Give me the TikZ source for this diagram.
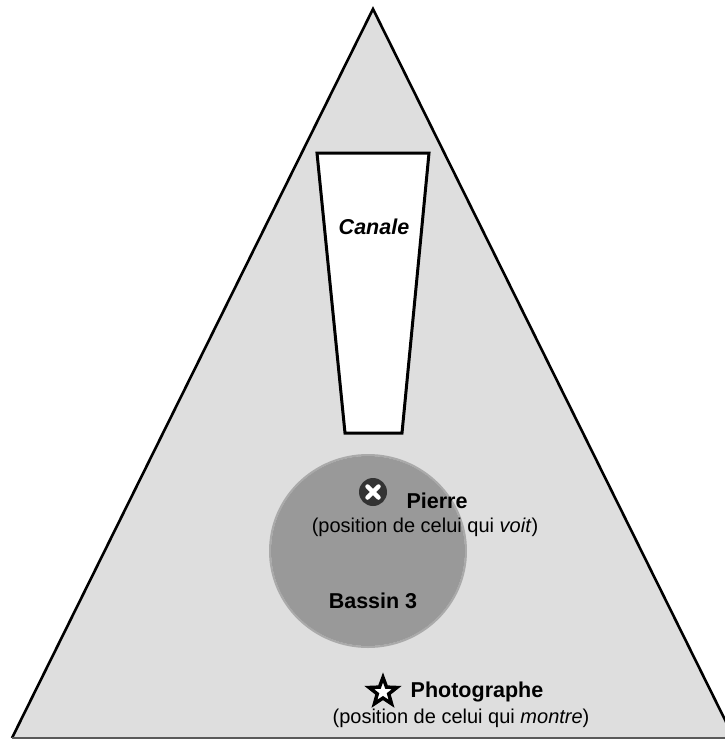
\documentclass[tikz,border=0pt]{standalone}
\usepackage{fontspec}
\setmainfont{Liberation Sans}
\usetikzlibrary{shapes.geometric}
\definecolor{plateau}{HTML}{DEDEDE}
\definecolor{bassin}{HTML}{999999}

\begin{document}
\begin{tikzpicture}[x=1pt,y=-1pt,
  lbl/.style={font=\fontsize{20}{24}\selectfont,anchor=base,inner sep=0pt},
  titre/.style={font=\fontsize{21.5}{26}\selectfont\bfseries,anchor=base,inner sep=0pt}]
  \useasboundingbox (0,0) rectangle (725,740);
  \clip (0,0) rectangle (725,740);
  \fill[white] (0,0) rectangle (725,740);
  % le plateau
  \fill[plateau] (12,738) -- (373,9) -- (734,738) -- cycle;
  \draw[line width=2.6pt,line join=miter] (12,738) -- (373,9) -- (734,738);
  \draw[black!65,line width=1.5pt] (12,738) -- (725,738);
  % le canal
  \draw[fill=white,line width=3pt] (317,153) -- (429,153) -- (402,433) -- (345,433) -- cycle;
  \node[titre,font=\fontsize{21.5}{26}\selectfont\bfseries\itshape] (canale) at (374,234) {Canale};
  % le bassin
  \draw[bassin!75!plateau,line width=2pt] (368,551) ellipse [x radius=98, y radius=96];
  \fill[bassin] (368,551) ellipse [x radius=97, y radius=95];
  \node[titre] (bassin-nom) at (373,608) {Bassin 3};
  % Pierre
  \node[circle,fill=black!80,minimum size=28pt,inner sep=0pt] (pierre) at (373,492) {};
  \draw[white,line width=4.5pt,line cap=round] ([shift={(-5.5,-5.5)}]pierre.center) -- ([shift={(5.5,5.5)}]pierre.center);
  \draw[white,line width=4.5pt,line cap=round] ([shift={(-5.5,5.5)}]pierre.center) -- ([shift={(5.5,-5.5)}]pierre.center);
  \node[titre] (pierre-nom) at (437,508) {Pierre};
  \node[lbl] (pierre-role) at (425,532) {(position de celui qui \textit{voit})};
  % le photographe
  \node[star,star points=5,star point ratio=2.4,draw,fill=white,line width=3.5pt,
        minimum size=29pt,inner sep=0pt] (photo) at (383,692) {};
  \node[titre] (photo-nom) at (477,697) {Photographe};
  \node[lbl] (photo-role) at (461,723) {(position de celui qui \textit{montre})};
\end{tikzpicture}
\end{document}
